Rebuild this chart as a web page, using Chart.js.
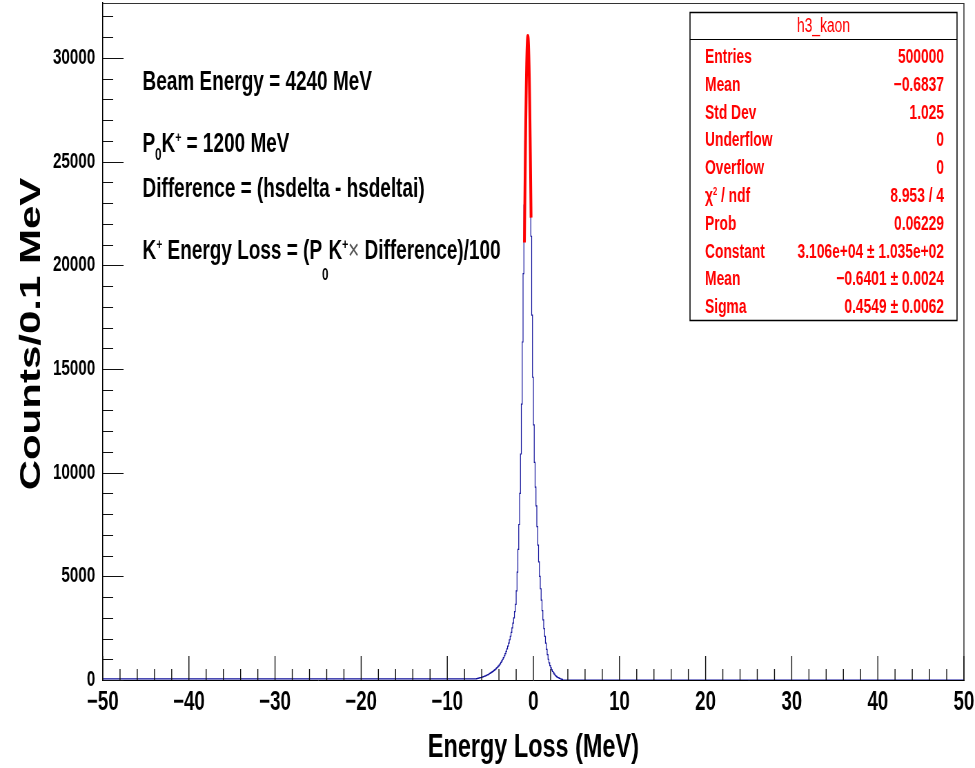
<!DOCTYPE html>
<html><head><meta charset="utf-8">
<script src="https://cdn.jsdelivr.net/npm/chart.js@4/dist/chart.umd.min.js"></script>
<style>
html,body{margin:0;padding:0;background:#fff;overflow:hidden;width:975px;height:768px;}
#wrap{width:1413px;height:768px;transform:scaleX(0.69);transform-origin:0 0;}
canvas{display:block;}
</style></head><body>
<div id="wrap"><canvas id="c" width="1413" height="768"></canvas></div>
<script>
// ---- data ----
const xRange = [-50, 50];
const yMax = 32650;
const xTicks = [-50, -40, -30, -20, -10, 0, 10, 20, 30, 40, 50];
const yTicks = [0, 5000, 10000, 15000, 20000, 25000, 30000];
const binWidth = 0.1;
const firstBinLow = -6.6;
const counts = [
  50,70,80,90,100,110,
  120,140,150,170,190,200,220,240,260,290,
  320,340,370,400,430,460,500,540,580,620,
  670,720,780,850,920,1000,1080,1170,1270,1380,
  1500,1630,1780,1940,2110,2300,2510,2740,3000,3300,
  3650,4300,5200,6300,7500,9000,10900,13300,16300,19600,
  22900,26000,28600,30400,31000,30300,28300,25200,21400,17600,
  14600,12300,10500,9300,8400,7400,6500,5700,5000,4400,
  3850,3350,2900,2480,2100,1780,1480,1220,1000,830,
  690,580,490,410,340,280,230,190,150,120,
  100,80,60,45,30
];
const fitX = [-1.04,-1.0,-0.95,-0.9,-0.85,-0.8,-0.75,-0.7,-0.65,-0.6,-0.55,-0.5,-0.45,-0.4,-0.35,-0.3,-0.27];
const fitY = [21100,22700,24600,26400,27900,29200,30200,30800,31060,30940,30460,29630,28460,27020,25340,23490,22300];
const xMinorStep = 2;
const yMinorStep = 1000;
const xTitle = 'Energy Loss (MeV)';
const yTitle = 'Counts/0.1 MeV';
const statsTitle = 'h3_kaon';
const statsLabels = [[{t:'Entries'}],[{t:'Mean'}],[{t:'Std Dev'}],[{t:'Underflow'}],[{t:'Overflow'}],
  [{t:'\u03C7'},{t:'2',sup:true},{t:' / ndf'}],[{t:'Prob'}],[{t:'Constant'}],[{t:'Mean'}],[{t:'Sigma'}]];
const statsValues = ['500000','\u22120.6837','1.025','0','0','8.953 / 4','0.06229',
  '3.106e+04 \u00B1 1.035e+02','\u22120.6401 \u00B1 0.0024','0.4549 \u00B1 0.0062'];
const notes = [
  [{t:'Beam Energy = 4240 MeV'}],
  [{t:'P'},{t:'0',sub:true},{t:'K'},{t:'+',sup:true},{t:' = 1200 MeV'}],
  [{t:'Difference = (hsdelta - hsdeltai)'}],
  [{t:'K'},{t:'+',sup:true},{t:' Energy Loss = (P'},{t:'0',sub:true,low:true},{t:'K'},{t:'+',sup:true},{t:'\u00D7',thin:true},{t:' Difference)/100'}]
];

// ---- build library data ----
const histPts = [{x: xRange[0], y: 0}];
counts.forEach((c, i) => histPts.push({x: +(firstBinLow + i*binWidth).toFixed(2), y: c}));
histPts.push({x: +(firstBinLow + counts.length*binWidth).toFixed(2), y: 0});
histPts.push({x: xRange[1], y: 0});
const fitPts = fitX.map((x, i) => ({x, y: fitY[i]}));

const FONT = '"Liberation Sans", Arial, Helvetica, sans-serif';
const minus = v => (v < 0 ? '\u2212' + Math.abs(v) : String(v));

function drawSegs(ctx, segs, x, y, size, color) {
  ctx.fillStyle = color;
  ctx.textBaseline = 'alphabetic';
  ctx.textAlign = 'left';
  for (const s of segs) {
    let fs = size, dy = 0, w = 'bold';
    if (s.sup) { fs = size * 0.55; dy = -size * 0.36; }
    if (s.sub) { fs = size * 0.6; dy = s.low ? size * 0.75 : size * 0.28; }
    if (s.thin) { w = 'normal'; ctx.fillStyle = '#555'; }
    ctx.font = `${w} ${fs}px ${FONT}`;
    ctx.fillText(s.t, x, y + dy);
    x += ctx.measureText(s.t).width;
    ctx.fillStyle = color;
  }
  return x;
}

const K = 0.69; // horizontal squeeze of the whole picture
const L = sx => sx / K; // screen x -> canvas x

const decor = {
  id: 'decor',
  afterDraw(chart) {
    const {ctx, chartArea: a, scales: {x, y}} = chart;
    ctx.save();
    // frame top and right
    ctx.strokeStyle = '#333';
    ctx.lineWidth = 1;
    ctx.beginPath(); ctx.moveTo(a.left, a.top + 0.5); ctx.lineTo(a.right, a.top + 0.5); ctx.stroke();
    ctx.lineWidth = 1.5;
    ctx.beginPath(); ctx.moveTo(a.right, a.top); ctx.lineTo(a.right, a.bottom); ctx.stroke();
    // ticks inside the frame
    ctx.strokeStyle = '#111';
    ctx.lineWidth = 1.4;
    const nx = Math.round((xRange[1] - xRange[0]) / xMinorStep);
    for (let i = 0; i <= nx; i++) {
      const v = xRange[0] + i * xMinorStep;
      const px = x.getPixelForValue(v);
      const len = xTicks.includes(v) ? 24 : 11;
      ctx.beginPath(); ctx.moveTo(px, a.bottom); ctx.lineTo(px, a.bottom - len); ctx.stroke();
    }
    ctx.lineWidth = 1;
    for (let v = 0; v <= yMax; v += yMinorStep) {
      const py = Math.round(y.getPixelForValue(v)) + 0.5;
      const len = yTicks.includes(v) ? 30 : 15;
      ctx.beginPath(); ctx.moveTo(a.left, py); ctx.lineTo(a.left + len, py); ctx.stroke();
    }
    // y axis title
    ctx.save();
    ctx.translate(L(32), 334);
    ctx.rotate(-Math.PI / 2);
    ctx.font = `bold 42px ${FONT}`;
    ctx.fillStyle = '#000';
    ctx.textAlign = 'center';
    ctx.textBaseline = 'middle';
    ctx.fillText(yTitle, 0, 0);
    ctx.restore();
    // annotations
    const noteBase = [90, 152, 197, 259];
    notes.forEach((segs, i) => drawSegs(ctx, segs, L(142.5), noteBase[i], 27.5, '#000'));
    // stats box
    const bx0 = L(690), bx1 = L(957), by0 = 12, by1 = 320, div = 39;
    ctx.fillStyle = '#fff';
    ctx.fillRect(bx0, by0, bx1 - bx0, by1 - by0);
    ctx.strokeStyle = '#000';
    ctx.lineWidth = 1.5;
    ctx.strokeRect(bx0, by0 + 0.5, bx1 - bx0, by1 - by0);
    ctx.lineWidth = 1;
    ctx.beginPath(); ctx.moveTo(bx0, div + 0.5); ctx.lineTo(bx1, div + 0.5); ctx.stroke();
    ctx.fillStyle = '#f00';
    ctx.font = `normal 20px ${FONT}`;
    ctx.textAlign = 'center';
    ctx.textBaseline = 'alphabetic';
    ctx.fillText(statsTitle, (bx0 + bx1) / 2, 32);
    statsLabels.forEach((segs, i) => {
      const yb = 63 + i * 27.8;
      drawSegs(ctx, segs, L(705), yb, 20, '#f00');
      ctx.font = `bold 20px ${FONT}`;
      ctx.textAlign = 'right';
      ctx.fillStyle = '#f00';
      ctx.fillText(statsValues[i], L(944), yb);
    });
    ctx.restore();
  }
};

new Chart(document.getElementById('c'), {
  type: 'line',
  data: {
    datasets: [
      {data: fitPts, borderColor: '#ff0000', borderWidth: 4, pointRadius: 0, tension: 0.4, order: 0, fill: false},
      {data: histPts, borderColor: '#10109a', borderWidth: 1.2, pointRadius: 0, stepped: 'after', order: 1, fill: false}
    ]
  },
  options: {
    responsive: false,
    animation: false,
    events: [],
    layout: {padding: {left: 0, right: 16, top: 3, bottom: 0}},
    plugins: {legend: {display: false}, tooltip: {enabled: false}},
    scales: {
      x: {
        type: 'linear', min: xRange[0], max: xRange[1],
        grid: {display: false, drawTicks: false},
        border: {display: true, color: '#000', width: 1},
        afterBuildTicks: s => { s.ticks = xTicks.map(value => ({value})); },
        ticks: {autoSkip: false, maxRotation: 0, minRotation: 0, padding: 6, color: '#000',
          font: {family: FONT, size: 27, weight: 'bold'}, callback: v => minus(v)},
        title: {display: true, text: xTitle, color: '#000', padding: {top: 0, bottom: 0},
          font: {family: FONT, size: 34, weight: 'bold'}},
        afterFit: s => { s.height = 88; s.paddingLeft = 0; s.paddingRight = 0; }
      },
      y: {
        type: 'linear', min: 0, max: yMax,
        grid: {display: false, drawTicks: false},
        border: {display: true, color: '#000', width: 1.5},
        afterBuildTicks: s => { s.ticks = yTicks.map(value => ({value})); },
        ticks: {autoSkip: false, padding: 11, color: '#000',
          font: {family: FONT, size: 22, weight: 'bold'}, callback: v => String(v)},
        title: {display: false},
        afterFit: s => { s.width = 149; s.paddingTop = 0; s.paddingBottom = 0; }
      }
    }
  },
  plugins: [decor]
});
</script>
</body></html>
